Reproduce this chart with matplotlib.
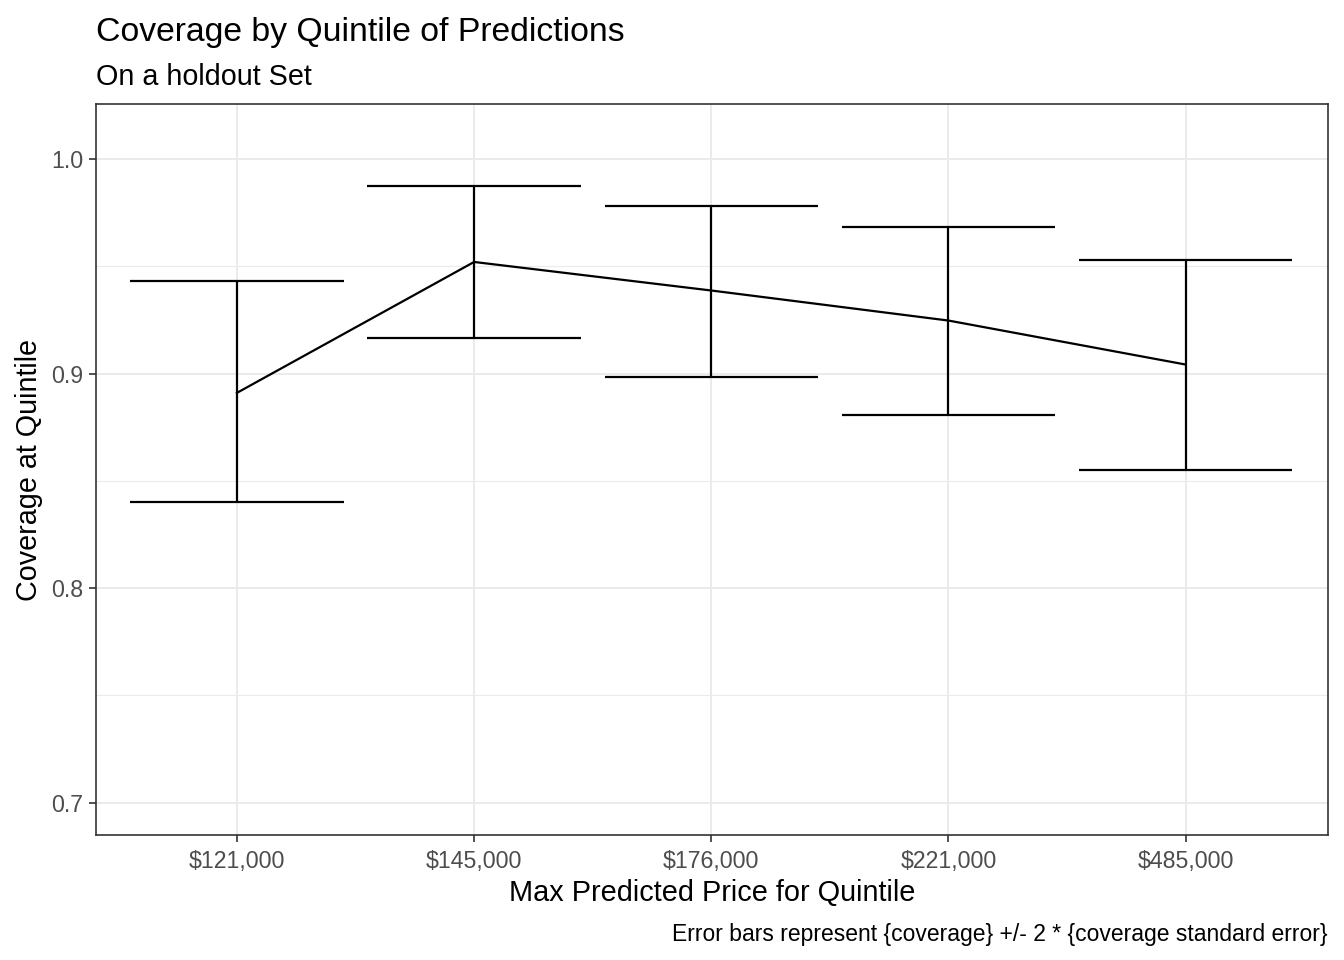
import matplotlib
matplotlib.use("Agg")
import matplotlib.pyplot as plt
from matplotlib.ticker import FixedLocator

plt.rcParams['font.family'] = ['Liberation Sans', 'DejaVu Sans']

categories = ["$121,000", "$145,000", "$176,000", "$221,000", "$485,000"]
coverage = [0.891, 0.952, 0.9387, 0.9247, 0.9042]
upper = [0.943, 0.9876, 0.9782, 0.9685, 0.9531]
lower = [0.840, 0.9168, 0.8986, 0.8809, 0.8553]
y_ticks = [0.7, 0.8, 0.9, 1.0]
y_minor = [0.75, 0.85, 0.95]

W, H = 1344, 960
fig = plt.figure(figsize=(W / 100, H / 100), dpi=100)
L, R, T, B = 96, 1328, 104, 835
ax = fig.add_axes([L / W, 1 - B / H, (R - L) / W, (B - T) / H])

x = list(range(1, len(categories) + 1))
lw = 1.6
ax.plot(x, coverage, color='black', lw=lw, zorder=3)
half = 0.45
for xi, lo, hi in zip(x, lower, upper):
    ax.plot([xi, xi], [lo, hi], color='black', lw=lw, zorder=3, solid_capstyle='butt')
    ax.plot([xi - half, xi + half], [lo, lo], color='black', lw=lw, zorder=3, solid_capstyle='butt')
    ax.plot([xi - half, xi + half], [hi, hi], color='black', lw=lw, zorder=3, solid_capstyle='butt')

ax.set_xlim(0.406, 5.6)
ax.set_ylim(0.685, 1.0256)
ax.set_xticks(x)
ax.set_xticklabels(categories)
ax.set_yticks(y_ticks)
ax.set_yticklabels([f"{v:.1f}" for v in y_ticks])
ax.yaxis.set_minor_locator(FixedLocator(y_minor))

for v in y_ticks:
    ax.axhline(v, color='#EBEBEB', lw=1.4, zorder=1)
for v in y_minor:
    ax.axhline(v, color='#EBEBEB', lw=0.8, zorder=1)
for v in x:
    ax.axvline(v, color='#EBEBEB', lw=1.4, zorder=1)

for s in ax.spines.values():
    s.set_color('#333333')
    s.set_linewidth(1.2)
ax.tick_params(axis='both', which='major', length=5, width=1.2, color='#333333',
               labelcolor='#4D4D4D', labelsize=16.7, pad=4)
ax.tick_params(axis='x', which='major', pad=6)
ax.tick_params(axis='y', which='minor', length=0)

fig.text(L / W, 1 - 41 / H, "Coverage by Quintile of Predictions", fontsize=24.3,
         ha='left', va='baseline')
fig.text(L / W, 1 - 85 / H, "On a holdout Set", fontsize=20.7, ha='left', va='baseline')
fig.text((L + R) / 2 / W, 1 - 901 / H, "Max Predicted Price for Quintile", fontsize=20.8,
         ha='center', va='baseline')
fig.text(1328 / W, 1 - 941 / H, "Error bars represent {coverage} +/- 2 * {coverage standard error}",
         fontsize=16.5, ha='right', va='baseline')
fig.text(29 / W, 1 - 470 / H, "Coverage at Quintile", fontsize=20.7,
         rotation=90, ha='center', va='center')

fig.savefig("out.png", dpi=100)
